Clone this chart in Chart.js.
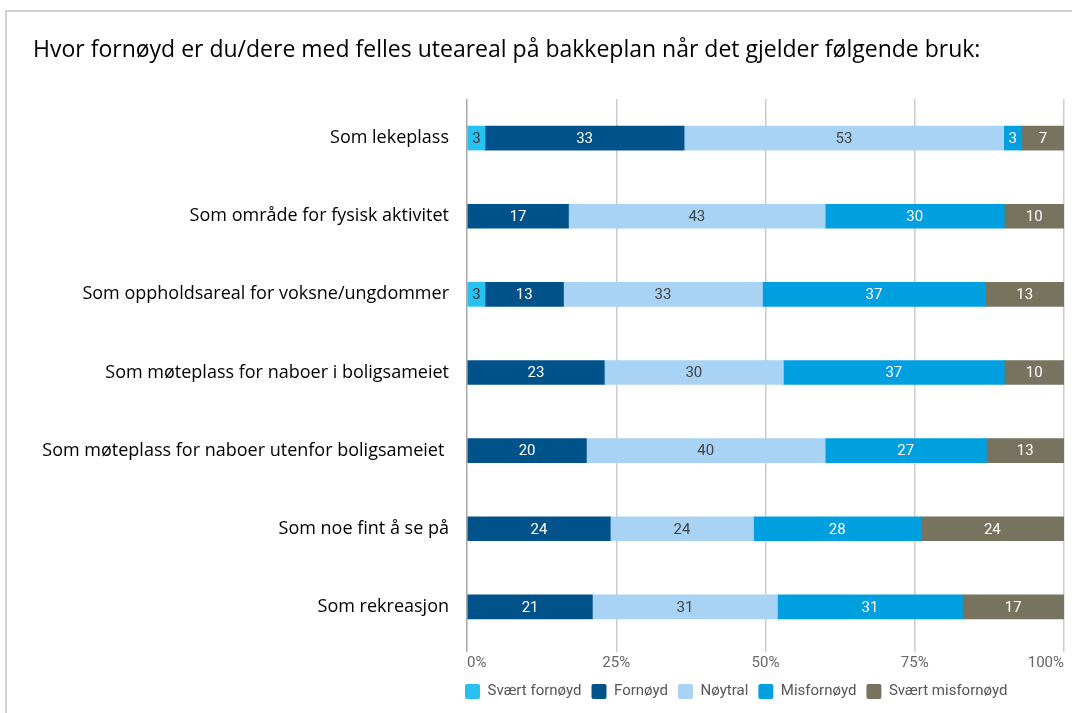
<!DOCTYPE html>
<html>
<head>
<meta charset="utf-8">
<script src="https://cdn.jsdelivr.net/npm/chart.js@4"></script>
<style>
  html, body { margin: 0; padding: 0; background: #fff; }
  #wrap { position: relative; width: 1072px; height: 713px; overflow: hidden; }
  #frame { position: absolute; left: 5px; top: 10px; right: -10px; bottom: -10px;
           border-left: 2px solid #d0d0d0; border-top: 2px solid #d0d0d0; }
  #title { position: absolute; left: 33px; top: 32px; font-family: "Open Sans", sans-serif;
           font-size: 23px; color: #000; white-space: nowrap; }
  canvas { position: absolute; left: 0; top: 0; }
</style>
</head>
<body>
<div id="wrap">
  <div id="frame"></div>
  <canvas id="chart" width="1072" height="713"></canvas>
  <div id="title">Hvor fornøyd er du/dere med felles uteareal på bakkeplan når det gjelder følgende bruk:</div>
</div>
<script>
const categories = [
  "Som lekeplass",
  "Som område for fysisk aktivitet",
  "Som oppholdsareal for voksne/ungdommer",
  "Som møteplass for naboer i boligsameiet",
  "Som møteplass for naboer utenfor boligsameiet ",
  "Som noe fint å se på",
  "Som rekreasjon"
];

const seriesNames = ["Svært fornøyd", "Fornøyd", "Nøytral", "Misfornøyd", "Svært misfornøyd"];

const svaertFornoyd = [3, 0, 3, 0, 0, 0, 0];
const fornoyd = [33, 17, 13, 23, 20, 24, 21];
const noytral = [53, 43, 33, 30, 40, 24, 31];
const misfornoyd = [3, 30, 37, 37, 27, 28, 31];
const svaertMisfornoyd = [7, 10, 13, 10, 13, 24, 17];

const xTicks = ["0%", "25%", "50%", "75%", "100%"];

const colors = ["#27c2f2", "#00538a", "#a8d3f4", "#009fe0", "#78735f"];
const labelColors = ["#333", "#fff", "#444", "#fff", "#fff"];

const allSeries = [svaertFornoyd, fornoyd, noytral, misfornoyd, svaertMisfornoyd];

// each row is drawn as 100% stacked
const rowSums = categories.map((_, i) => allSeries.reduce((s, arr) => s + arr[i], 0));

const datasets = allSeries.map((arr, k) => ({
  label: seriesNames[k],
  data: arr.map((v, i) => v / rowSums[i] * 100),
  raw: arr,
  backgroundColor: colors[k],
  barThickness: 24,
  textColor: labelColors[k]
}));

const barLabels = {
  id: "barLabels",
  afterDatasetsDraw(chart) {
    const ctx = chart.ctx;
    ctx.save();
    ctx.font = "15px Roboto";
    ctx.textAlign = "center";
    ctx.textBaseline = "middle";
    chart.data.datasets.forEach((ds, k) => {
      const meta = chart.getDatasetMeta(k);
      meta.data.forEach((bar, i) => {
        const v = ds.raw[i];
        if (!v) return;
        const p = bar.getCenterPoint();
        ctx.fillStyle = ds.textColor;
        ctx.fillText(String(v), p.x, p.y + 1);
      });
    });
    ctx.restore();
  }
};

// legend starts flush with the plot's left edge
const legendShift = {
  id: "legendShift",
  afterLayout(chart) {
    chart.legend.left -= 12;
    chart.legend.right -= 12;
  }
};

new Chart(document.getElementById("chart"), {
  type: "bar",
  data: { labels: categories, datasets: datasets },
  plugins: [barLabels, legendShift],
  options: {
    indexAxis: "y",
    responsive: false,
    devicePixelRatio: 1,
    animation: false,
    events: [],
    layout: { padding: { top: 99, right: 8, bottom: 4, left: 0 } },
    scales: {
      x: {
        stacked: true,
        min: 0,
        max: 100,
        afterBuildTicks(scale) {
          scale.ticks = xTicks.map((t, i) => ({ value: i * 25 }));
        },
        afterFit(scale) {
          scale.paddingLeft = 0;
          scale.paddingRight = 0;
        },
        ticks: {
          align: "inner",
          padding: 2,
          color: "#666",
          font: { family: "Roboto", size: 15 },
          callback: (v, i) => xTicks[i]
        },
        grid: {
          color: ctx => ctx.index === 0 ? "#a8a8a8" : "#cccccc",
          lineWidth: 1.5,
          tickLength: 6
        },
        border: { display: false }
      },
      y: {
        stacked: true,
        afterFit(scale) { scale.width = 467; },
        ticks: {
          padding: 18,
          color: "#000",
          font: { family: "Open Sans", size: 18 }
        },
        grid: { display: false, drawTicks: false },
        border: { display: false }
      }
    },
    plugins: {
      tooltip: { enabled: false },
      title: { display: false },
      legend: {
        position: "bottom",
        align: "start",
        fullSize: false,
        labels: {
          boxWidth: 15,
          boxHeight: 15,
          useBorderRadius: true,
          borderRadius: 2,
          padding: 10,
          color: "#555",
          font: { family: "Roboto", size: 15 }
        }
      }
    }
  }
});
</script>
</body>
</html>
